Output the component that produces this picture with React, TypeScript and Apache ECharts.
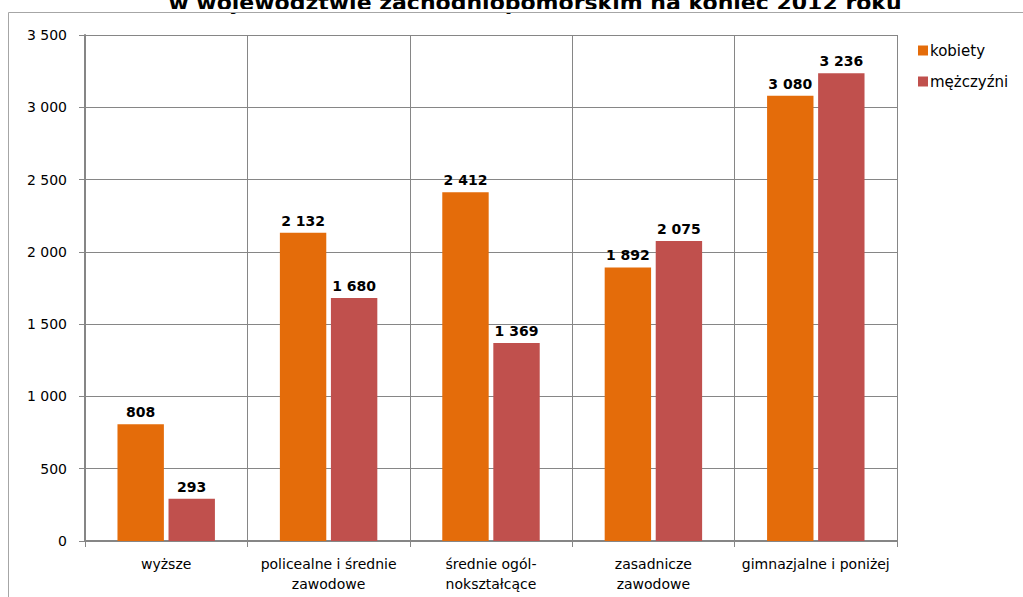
import React, { useEffect, useRef } from "react";
import * as echarts from "echarts";

const titleText = "w województwie zachodniopomorskim na koniec 2012 roku";
const categories = [
  "wyższe",
  "policealne i średnie\nzawodowe",
  "średnie ogól-\nnokształcące",
  "zasadnicze\nzawodowe",
  "gimnazjalne i poniżej",
];
const seriesNames = ["kobiety", "mężczyźni"];
const kobiety = [808, 2132, 2412, 1892, 3080];
const mezczyzni = [293, 1680, 1369, 2075, 3236];
const colors = ["#E46C0A", "#C0504D"];

const fmt = (v: number) => String(v).replace(/\B(?=(\d{3})+(?!\d))/g, " ");

export default function App() {
  const ref = useRef<HTMLDivElement>(null);
  useEffect(() => {
    if (!ref.current) return;
    const chart = echarts.init(ref.current, null, { renderer: "svg" });
    const font = "'DejaVu Sans', sans-serif";
    const labelStyle = {
      show: true,
      position: "top" as const,
      fontFamily: font,
      fontSize: 14,
      fontWeight: "bold" as const,
      color: "#000",
      distance: 5,
      formatter: (p: any) => fmt(p.value),
    };
    chart.setOption({
      animation: false,
      backgroundColor: "#fff",
      textStyle: { fontFamily: font },
      title: {
        text: titleText,
        left: 530,
        textAlign: "center",
        top: -14,
        textStyle: { fontFamily: font, fontSize: 22, fontWeight: "bold", color: "#000" },
      },
      graphic: [
        {
          type: "rect",
          z: 100,
          shape: { x: 0, y: 9, width: 1023, height: 3 },
          style: { fill: "#fff" },
          silent: true,
        },
        {
          type: "rect",
          z: 101,
          shape: { x: 8.5, y: 12.5, width: 1100, height: 700 },
          style: { fill: "none", stroke: "#a6a6a6", lineWidth: 1 },
          silent: true,
        },
      ],
      legend: {
        orient: "vertical",
        left: 913,
        top: 38,
        itemWidth: 10,
        itemHeight: 10,
        itemGap: 16,
        icon: "rect",
        textStyle: { fontFamily: font, fontSize: 15, color: "#000", padding: [0, 0, 0, -3] },
        data: seriesNames,
      },
      grid: { left: 85, right: 126, top: 35, bottom: 56, containLabel: false },
      xAxis: {
        type: "category",
        data: categories,
        axisLine: { lineStyle: { color: "#868686", width: 2 } },
        axisTick: { show: true, length: 6, lineStyle: { color: "#868686" } },
        splitLine: { show: true, interval: 0, lineStyle: { color: "#868686", width: 1 } },
        axisLabel: {
          interval: 0,
          margin: 13,
          fontFamily: font,
          fontSize: 14,
          color: "#000",
          lineHeight: 20,
        },
      },
      yAxis: {
        type: "value",
        min: 0,
        max: 3500,
        interval: 500,
        axisLine: { show: true, lineStyle: { color: "#868686", width: 2 } },
        axisTick: { show: true, length: 6, lineStyle: { color: "#868686" } },
        splitLine: { show: true, lineStyle: { color: "#868686", width: 1 } },
        axisLabel: {
          margin: 18,
          fontFamily: font,
          fontSize: 14,
          color: "#000",
          formatter: (v: number) => fmt(v),
        },
      },
      series: [
        {
          name: seriesNames[0],
          type: "bar",
          data: kobiety,
          itemStyle: { color: colors[0] },
          barGap: "10%",
          barCategoryGap: "40%",
          label: labelStyle,
        },
        {
          name: seriesNames[1],
          type: "bar",
          data: mezczyzni,
          itemStyle: { color: colors[1] },
          barGap: "10%",
          barCategoryGap: "40%",
          label: labelStyle,
        },
      ],
    });
    return () => chart.dispose();
  }, []);
  return (
    <div
      ref={ref}
      style={{ position: "absolute", left: 0, top: 0, width: 1023, height: 597 }}
    />
  );
}
